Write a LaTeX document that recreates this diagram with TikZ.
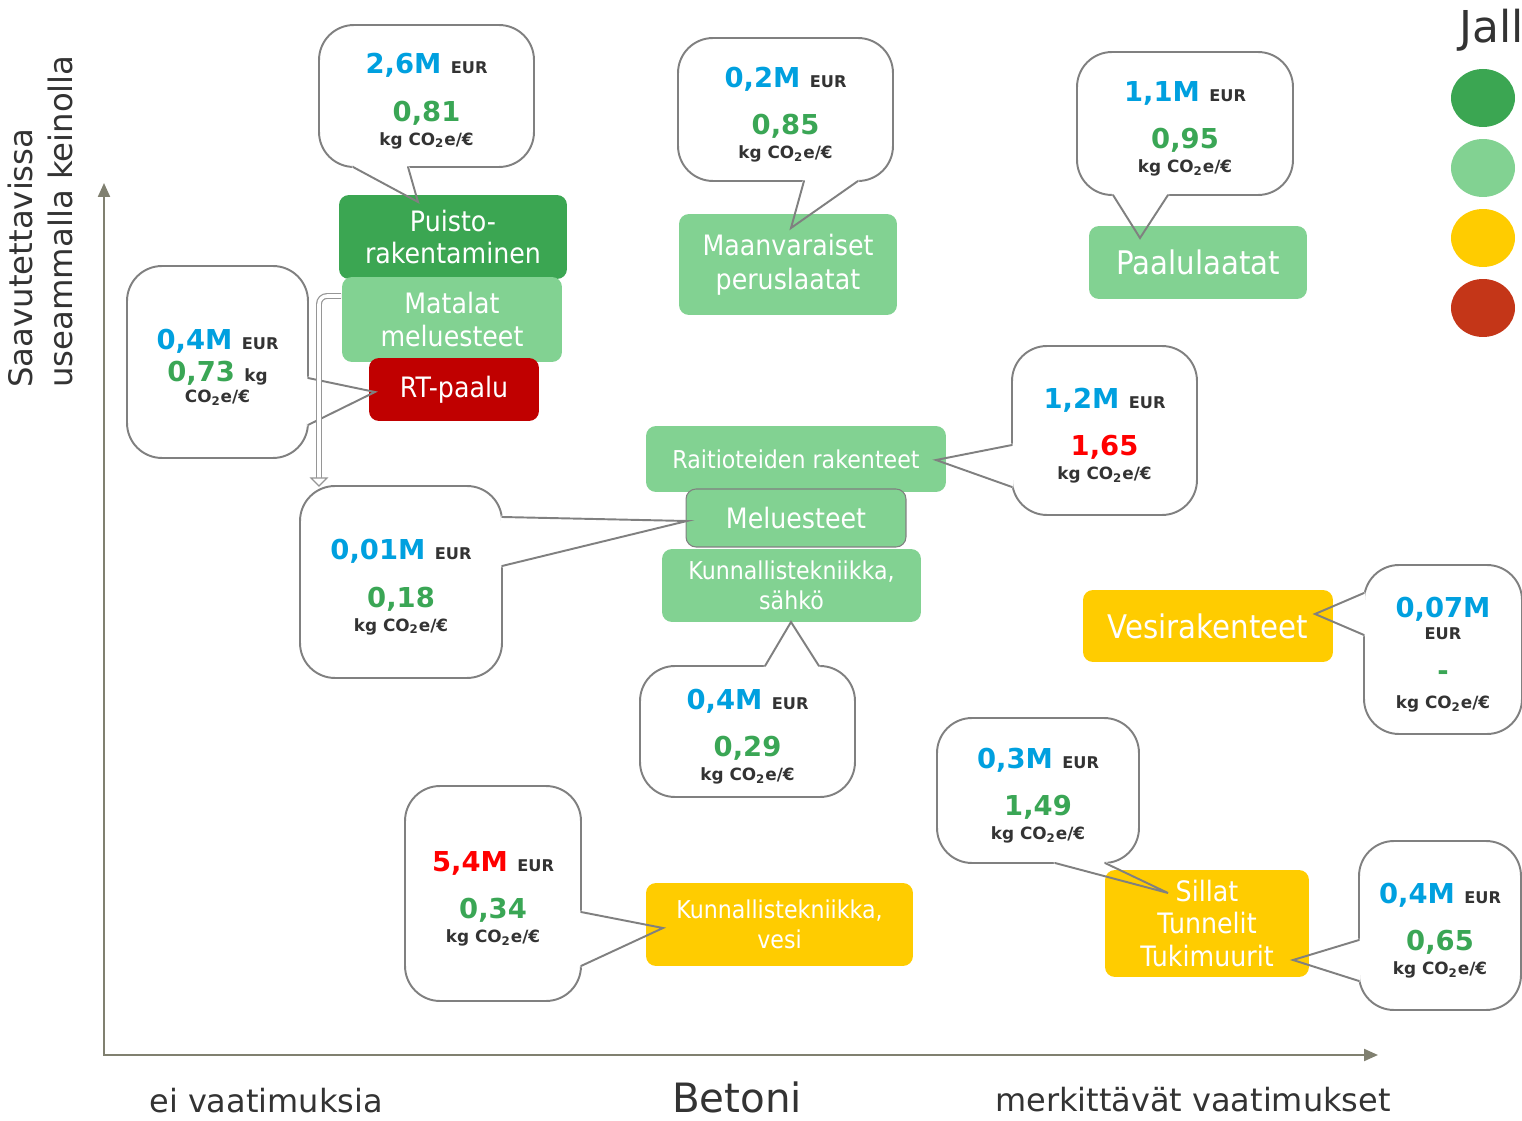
\documentclass[tikz,border=0pt]{standalone}
\usepackage{fontspec}
\setmainfont{DejaVu Sans}
\newfontfamily\lblfont[FakeStretch=0.9]{DejaVu Sans}
\usetikzlibrary{arrows.meta,positioning,calc}
\definecolor{axisgray}{RGB}{128,128,112}
\definecolor{bubblegray}{RGB}{128,128,128}
\definecolor{arrowgray}{RGB}{150,150,150}
\definecolor{labelgray}{RGB}{51,51,51}
\definecolor{numblue}{RGB}{0,160,223}
\definecolor{numgreen}{RGB}{58,166,85}
\definecolor{numred}{RGB}{255,0,0}
\definecolor{darkgreen}{RGB}{59,166,82}
\definecolor{lightgreen}{RGB}{130,210,146}
\definecolor{rtred}{RGB}{192,0,0}
\definecolor{amber}{RGB}{255,204,0}
\definecolor{legendred}{RGB}{196,54,24}
\newcommand{\mval}[2]{{\color{#1}\fontsize{15.6}{16}\selectfont #2}}
\newcommand{\topstrut}{\rule{0pt}{17.5pt}}
\newcommand{\eur}{{\fontsize{9.2}{10}\selectfont\color{labelgray}EUR}}
\newcommand{\kgco}{{\fontsize{9.6}{10}\selectfont\color{labelgray}kg CO\textsubscript{2}e/€}}
\newcommand{\costinfo}[4]{\topstrut\mval{#1}{#2} \eur\\[11pt]\mval{#3}{#4}\\[-2.4pt]\kgco}
\tikzset{
  axisline/.style={line width=1.2pt,draw=axisgray},
  bubble/.style={draw=bubblegray,line width=1.1pt,fill=white,rounded corners=0.7cm,
                 align=center,inner sep=0pt,font=\bfseries\fontsize{15.6}{16}\selectfont},
  tailfill/.style={fill=white,draw=white,line width=1.6pt,line join=round},
  tailline/.style={draw=bubblegray,line width=1.1pt,line cap=round},
  tagbox/.style={rounded corners=0.2cm,align=center,text=white,inner sep=0pt,
                 font=\lblfont\fontsize{16}{18.7}\selectfont},
  bigtag/.style={tagbox,font=\lblfont\fontsize{18.5}{21}\selectfont},
  smalltag/.style={tagbox,font=\lblfont\fontsize{14}{17}\selectfont},
  axislbl/.style={inner sep=0pt,text=labelgray,font=\fontsize{18.2}{22}\selectfont},
}
\begin{document}
\begin{tikzpicture}[x=0.02cm,y=-0.02cm]
  \useasboundingbox (0,0) rectangle (1522,1121);
  % axes
  \coordinate (ytop) at (104,183);
  \coordinate (origin) at (104,1055);
  \coordinate (xend) at (1378,1055);
  \draw[axisline,{Triangle[length=0.28cm,width=0.24cm]}-{Triangle[length=0.28cm,width=0.24cm]}]
    (ytop) -- (origin) -- (xend);
  \node[rotate=90,anchor=north west,align=left,inner sep=0pt,text=labelgray,
        font=\fontsize{18.4}{22.7}\selectfont] (ylabel) at (8,388)
        {Saavutettavissa\\useammalla keinolla};
  \node[axislbl] (eivaat) at (266,1101) {ei vaatimuksia};
  \node[axislbl,font=\fontsize{23}{26}\selectfont] (betoni) at (737,1097) {Betoni};
  \node[axislbl] (merkit) at (1193,1100) {merkittävät vaatimukset};

  % info bubbles
  \node[bubble,minimum width=4.30cm,minimum height=2.84cm] (infopuisto) at (426.5,96)
    {\costinfo{numblue}{2,6M}{numgreen}{0,81}};
  \node[bubble,minimum width=4.30cm,minimum height=2.86cm] (infomaan) at (785.5,109.5)
    {\costinfo{numblue}{0,2M}{numgreen}{0,85}};
  \node[bubble,minimum width=4.32cm,minimum height=2.86cm] (infopaalu) at (1185,123.5)
    {\costinfo{numblue}{1,1M}{numgreen}{0,95}};
  \node[bubble,minimum width=3.62cm,minimum height=3.84cm] (infort) at (217.5,362)
    {\topstrut\mval{numblue}{0,4M} \eur\\[2.7pt]\mval{numgreen}{0,73}
     {\fontsize{9.6}{10}\selectfont\color{labelgray}kg}\\[-4.1pt]
     {\fontsize{9.6}{10}\selectfont\color{labelgray}CO\textsubscript{2}e/€}};
  \node[bubble,minimum width=4.04cm,minimum height=3.84cm] (infomelu) at (401,582)
    {\costinfo{numblue}{0,01M}{numgreen}{0,18}};
  \node[bubble,minimum width=3.70cm,minimum height=3.38cm] (inforaitio) at (1104.5,430.5)
    {\costinfo{numblue}{1,2M}{numred}{1,65}};
  \node[bubble,minimum width=4.30cm,minimum height=2.62cm] (infosahko) at (747.5,731.5)
    {\costinfo{numblue}{0,4M}{numgreen}{0,29}};
  \node[bubble,minimum width=3.16cm,minimum height=3.38cm] (infovesir) at (1443,649.5)
    {\topstrut\mval{numblue}{0,07M}\\[-3.5pt]\eur\\[7.8pt]\mval{numgreen}{-}\\[-0.1pt]\kgco};
  \node[bubble,minimum width=3.52cm,minimum height=4.30cm] (infokvesi) at (493,893.5)
    {\costinfo{numred}{5,4M}{numgreen}{0,34}};
  \node[bubble,minimum width=4.04cm,minimum height=2.90cm] (infosilta1) at (1038,790.5)
    {\costinfo{numblue}{0,3M}{numgreen}{1,49}};
  \node[bubble,minimum width=3.24cm,minimum height=3.38cm] (infosilta2) at (1440,925.5)
    {\costinfo{numblue}{0,4M}{numgreen}{0,65}};

  % tail points
  \coordinate (infopuisto-l) at (353,167);  \coordinate (infopuisto-tip) at (418,202);  \coordinate (infopuisto-r) at (408,167);
  \coordinate (infomaan-l) at (804,181);    \coordinate (infomaan-tip) at (791,228);    \coordinate (infomaan-r) at (858,181);
  \coordinate (infopaalu-l) at (1113,195);  \coordinate (infopaalu-tip) at (1140,238);  \coordinate (infopaalu-r) at (1168,195);
  \coordinate (infort-l) at (308,378);      \coordinate (infort-tip) at (375,392);      \coordinate (infort-r) at (308,425);
  \coordinate (infomelu-l) at (502,517);    \coordinate (infomelu-tip) at (687,521);    \coordinate (infomelu-r) at (502,566);
  \coordinate (inforaitio-l) at (1012,445); \coordinate (inforaitio-tip) at (936,460);  \coordinate (inforaitio-r) at (1012,487);
  \coordinate (infosahko-l) at (765,666);   \coordinate (infosahko-tip) at (791,622);   \coordinate (infosahko-r) at (819,666);
  \coordinate (infovesir-l) at (1364,593);  \coordinate (infovesir-tip) at (1315,614);  \coordinate (infovesir-r) at (1364,635);
  \coordinate (infokvesi-l) at (581,912);   \coordinate (infokvesi-tip) at (663,928);   \coordinate (infokvesi-r) at (581,966);
  \coordinate (infosilta1-l) at (1055,863); \coordinate (infosilta1-tip) at (1168,893); \coordinate (infosilta1-r) at (1105,863);
  \coordinate (infosilta2-l) at (1359,940); \coordinate (infosilta2-tip) at (1293,960); \coordinate (infosilta2-r) at (1359,981);
  \foreach \b in {infopuisto,infomaan,infopaalu,infort,infomelu,inforaitio,
                  infosahko,infovesir,infokvesi,infosilta1,infosilta2}
    \filldraw[tailfill] (\b-l) -- (\b-tip) -- (\b-r) -- cycle;

  % structure boxes
  \node[tagbox,fill=darkgreen,minimum width=4.56cm,minimum height=1.68cm] (puisto) at (453,237)
    {Puisto-\\rakentaminen};
  \node[tagbox,fill=lightgreen,minimum width=4.40cm,minimum height=1.70cm] (matalat) at (452,319.5)
    {Matalat\\meluesteet};
  \node[tagbox,fill=rtred,minimum width=3.40cm,minimum height=1.26cm] (rtpaalu) at (454,389.5)
    {RT-paalu};
  \node[tagbox,fill=lightgreen,minimum width=4.36cm,minimum height=2.02cm,
        font=\lblfont\fontsize{16}{19.3}\selectfont] (maanv) at (788,264.5)
    {Maanvaraiset\\peruslaatat};
  \node[bigtag,fill=lightgreen,minimum width=4.36cm,minimum height=1.46cm] (paalu) at (1198,262.5)
    {Paalulaatat};
  \node[smalltag,fill=lightgreen,minimum width=6.00cm,minimum height=1.32cm] (raitio) at (796,459)
    {Raitioteiden rakenteet};
  \node[tagbox,fill=lightgreen,draw=bubblegray,line width=0.6pt,
        minimum width=4.40cm,minimum height=1.16cm] (melu) at (796,518)
    {Meluesteet};
  \node[smalltag,fill=lightgreen,minimum width=5.18cm,minimum height=1.46cm] (ksahko) at (791.5,585.5)
    {Kunnallistekniikka,\\sähkö};
  \node[bigtag,fill=amber,minimum width=5.00cm,minimum height=1.44cm] (vesirak) at (1208,626)
    {Vesirakenteet};
  \node[smalltag,fill=amber,minimum width=5.34cm,minimum height=1.66cm] (kvesi) at (779.5,924.5)
    {Kunnallistekniikka,\\vesi};
  \node[tagbox,fill=amber,minimum width=4.08cm,minimum height=2.14cm] (sillat) at (1207,923.5)
    {Sillat\\Tunnelit\\Tukimuurit};

  \foreach \b in {infopuisto,infomaan,infopaalu,infort,infomelu,inforaitio,
                  infosahko,infovesir,infokvesi,infosilta1,infosilta2}
    \draw[tailline] (\b-l) -- (\b-tip) -- (\b-r);

  % move arrow from Matalat down
  \coordinate (movestart) at (341,296);
  \coordinate (moveend) at (319,478);
  \draw[draw=arrowgray,double=white,double distance=2pt,line width=0.7pt,rounded corners=0.16cm]
    (movestart) -| (moveend);
  \draw[draw=arrowgray,fill=white,line width=0.7pt]
    ($(moveend)+(-8,0)$) -- ($(moveend)+(8,0)$) -- ($(moveend)+(0,8)$) -- cycle;

  % legend
  \node[anchor=base west,inner sep=0pt,text=labelgray,font=\fontsize{25}{30}\selectfont] (jall) at (1459,43) {Jall};
  \foreach \yc/\col in {98/darkgreen,168/lightgreen,238/amber,308/legendred}
    \fill[\col] (1483,\yc) ellipse [x radius=0.64cm,y radius=0.58cm];
\end{tikzpicture}
\end{document}
